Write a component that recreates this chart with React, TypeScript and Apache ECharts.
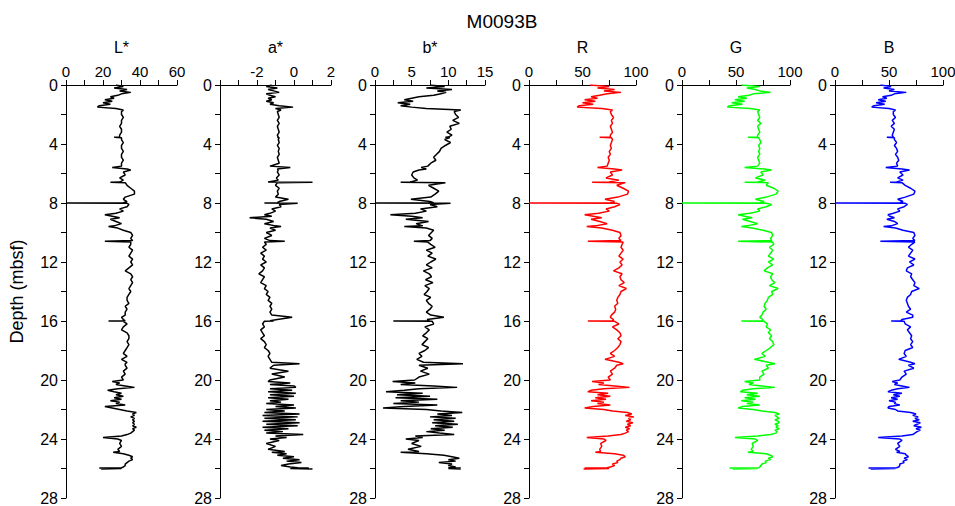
import React, { useEffect, useRef } from "react";
import * as echarts from "echarts";

// Depth (mbsf), shared by all six logs
const depth = [
  0, 0.1, 0.2, 0.3, 0.4, 0.5, 0.6, 0.7, 0.8, 0.9, 1.0, 1.1, 1.2, 1.3, 1.4, 1.5, 1.6, 1.7, 1.8,
  2.0, 2.2, 2.4, 2.6, 2.8, 3.0, 3.2, 3.4, 3.53, 3.55, 3.57, 3.7, 3.9, 4.1, 4.3, 4.5, 4.7, 4.9, 5.1, 5.3,
  5.5, 5.6, 5.7, 5.76, 5.9, 6.1, 6.3, 6.45, 6.58, 6.6, 6.62, 6.8, 7.0, 7.2, 7.4, 7.6, 7.75, 7.9, 7.98, 8.0, 8.02,
  8.1, 8.25, 8.4, 8.55, 8.7, 8.8, 8.9, 9.0, 9.1, 9.25, 9.4, 9.55, 9.6, 9.7, 9.85, 10.0, 10.2, 10.4, 10.55, 10.6, 10.65, 10.8, 11.0, 11.2,
  11.4, 11.6, 11.8, 12.0, 12.2, 12.4, 12.6, 12.8, 13.0, 13.2, 13.4, 13.6, 13.8, 14.0, 14.2, 14.4, 14.6, 14.8, 15.0, 15.2, 15.4, 15.6,
  15.75, 15.9, 15.98, 16.0, 16.02,
  16.2, 16.4, 16.6, 16.8, 17.0, 17.2, 17.4, 17.6, 17.8, 18.0, 18.2, 18.4, 18.6, 18.8,
  18.9, 19.0, 19.2, 19.4, 19.6, 19.8, 20.0,
  20.1, 20.2, 20.3, 20.4, 20.5, 20.6, 20.7, 20.8, 20.9, 21.0, 21.1, 21.2, 21.3, 21.4, 21.5, 21.6, 21.7, 21.8, 21.9, 22.0,
  22.1, 22.2, 22.3, 22.4, 22.5, 22.6, 22.7, 22.8, 22.9, 23.0, 23.1, 23.2, 23.3, 23.4, 23.5, 23.6, 23.7, 23.8, 23.9, 24.0, 24.1,
  24.3, 24.5, 24.7, 24.85, 24.9, 25.0, 25.1, 25.2, 25.3, 25.4, 25.5, 25.6, 25.7, 25.8, 25.9, 25.95, 25.97, 26.0, 26.03,
];

const lStar = [
  27, 31, 26, 33, 29, 35, 30, 28, 24, 26, 21, 25, 20, 24, 18, 17, 27, 31, 30,
  30, 31, 30, 30, 29, 30, 30, 29, 29, 26, 30, 30, 31, 30, 30, 31, 30, 30, 31, 30,
  30, 25, 33, 35, 31, 32, 29, 31, 29, 24, 32, 33, 35, 37, 37, 32, 31, 33, 31, 0, 33,
  34, 33, 29, 31, 27, 21, 25, 29, 24, 27, 30, 26, 23, 28, 31, 35, 36, 35, 36, 21, 35, 35, 34, 36,
  35, 34, 36, 35, 36, 34, 32, 35, 36, 35, 36, 35, 34, 35, 34, 33, 33, 34, 32, 33, 32, 32,
  30, 31, 32, 23, 31,
  33, 31, 30, 33, 34, 34, 33, 34, 33, 32, 31, 33, 30, 33,
  32, 32, 33, 31, 32, 30, 31,
  25, 29, 27, 32, 37, 28, 22.5, 26, 30, 27, 31, 26, 30, 24, 29, 27, 32, 21, 25, 29,
  33, 38, 36, 37, 35, 37, 36, 37, 36, 37, 36, 38, 36, 37, 36, 35, 33, 30, 20, 28, 30,
  29, 30, 28, 29, 25.5, 31, 34, 36, 35, 36, 34, 33, 32, 32, 31, 30, 18, 30, 19,
];

const aStar = [
  -1.2, -1.5, -0.9, -1.4, -1.1, -0.8, -1.5, -1.3, -1.0, -1.4, -1.2, -1.5, -1.1, -1.3, -0.8, -0.05, -1.0, -0.7, -0.9,
  -0.85, -0.8, -0.9, -0.8, -0.9, -0.85, -0.8, -0.9, -0.85, -0.9, -0.8, -0.85, -0.8, -0.9, -0.8, -0.85, -0.8, -0.9, -0.85, -0.8,
  -1.3, -0.2, -0.9, -0.85, -0.9, -0.8, -0.95, -0.85, -1.4, 1.0, -0.9, -1.0, -0.8, -0.9, -0.85, -1.0, -0.3, -0.8, -0.9, -1.6, 0.2,
  -0.8, -0.7, -1.2, -1.0, -1.3, -1.6, -1.2, -2.4, -1.5, -1.1, -1.6, -1.0, -0.7, -1.3, -1.0, -1.5, -1.2, -1.6, -1.3, -0.5, -1.6, -1.5, -1.7, -1.5,
  -1.8, -1.6, -1.7, -1.5, -1.8, -1.6, -1.7, -1.9, -1.6, -1.7, -1.8, -1.5, -1.6, -1.4, -1.5, -1.3, -1.4, -1.2, -1.3, -1.2, -1.3, -1.2,
  -0.1, -0.9, -1.3, -1.1, -1.6,
  -1.7, -1.6, -1.8, -1.7, -1.6, -1.8, -1.6, -1.5, -1.6, -1.4, -1.3, -1.4, -1.3, -1.2,
  0.3, -1.1, -1.3, -0.3, -1.2, -0.5, -1.3,
  -1.4, -0.2, -1.3, 0.0, 0.1, -1.3, -0.1, -1.4, 0.1, -1.3, 0.0, -1.4, -0.3, -1.3, -0.7, -1.5, 0.0, -1.0, 0.1, -1.5,
  -0.5, -1.6, 0.3, -1.7, 0.2, -1.6, 0.1, -1.7, 0.3, -1.5, 0.2, -1.7, -0.3, -1.6, -0.6, -1.5, 0.5, -1.0, -0.4, -1.3, -0.8,
  -1.5, -1.0, -1.4, -0.5, -1.2, -0.4, -0.9, 0.0, -0.6, 0.3, -0.4, 0.4, -0.3, -0.7, -0.2, 0.2, 0.8, -0.2, 1.0,
];

const bStar = [
  7.5, 9.5, 7.0, 10.5, 8.5, 9.7, 9.0, 8.0, 6.0, 5.0, 4.0, 5.2, 3.1, 4.8, 3.5, 5.0, 7.0, 11.7, 10.8,
  11.0, 11.4, 10.6, 11.5, 10.2, 10.4, 9.8, 10.5, 10.0, 9.6, 10.2, 9.5, 10.3, 9.6, 9.0, 8.8, 8.4, 8.0, 8.3, 7.6,
  7.2, 6.3, 7.0, 6.0, 5.2, 5.0, 5.3, 5.8, 4.8, 3.5, 9.6, 7.3, 8.0, 8.7, 8.2, 7.6, 4.9, 7.5, 8.0, 0, 10.3,
  7.5, 8.5, 6.2, 7.0, 5.5, 2.1, 5.0, 6.5, 4.2, 7.3, 5.6, 6.5, 4.0, 7.0, 8.0, 7.7, 7.3, 7.8, 7.5, 5.3, 7.2, 7.6, 8.2, 7.0,
  7.8, 7.2, 8.3, 7.6, 7.0, 7.8, 6.6, 7.4, 7.7, 6.9, 7.9, 6.8, 7.4, 7.1, 6.7, 7.6, 7.0, 7.3, 7.8, 7.5, 7.0, 7.6,
  9.4, 7.1, 7.4, 2.5, 7.8,
  8.0, 6.8, 7.4, 7.0, 6.5, 7.2, 6.8, 6.4, 7.3, 6.8, 6.0, 6.4, 5.7, 6.6,
  12.0, 6.0, 7.2, 6.2, 7.4, 6.0, 5.4,
  2.4, 5.5, 3.5, 8.0, 11.2, 6.0, 4.0, 1.5, 6.5, 3.0, 7.5, 2.8, 8.5, 3.5, 6.0, 2.5, 8.5, 4.0, 1.1, 7.0,
  9.0, 11.9, 8.5, 10.5, 7.5, 11.0, 8.0, 10.8, 7.8, 11.3, 8.2, 10.6, 7.6, 9.5, 7.0, 8.8, 10.8, 5.5, 6.5, 4.2, 6.0,
  5.0, 6.3, 4.5, 6.0, 3.5, 7.0, 9.4, 10.5, 11.5, 10.0, 11.0, 8.7, 10.5, 10.0, 11.0, 10.0, 11.7, 10.0, 11.7,
];

const red = [
  57, 75, 64, 80, 70, 86, 73, 66, 58, 64, 52, 62, 50, 60, 47, 45, 68, 78, 76,
  77, 79, 77, 78, 76, 77, 78, 76, 76, 66, 77, 78, 77, 76, 77, 75, 76, 74, 75, 74,
  73, 64, 80, 87, 76, 78, 72, 84, 75, 59, 90, 82, 88, 93, 92, 83, 71, 80, 76, 0, 82,
  85, 80, 72, 75, 65, 52, 60, 68, 58, 66, 73, 62, 54, 68, 78, 85, 86, 84, 86, 55, 88, 87, 86, 88,
  86, 84, 88, 85, 87, 84, 79, 87, 85, 86, 89, 84, 91, 86, 85, 83, 82, 83, 80, 81, 80, 77,
  76, 79, 78, 55, 80,
  84, 78, 82, 85, 86, 83, 86, 85, 83, 80, 76, 80, 71, 84,
  88, 82, 80, 76, 78, 74, 76,
  59, 70, 65, 80, 94, 70, 58, 55, 74, 64, 76, 62, 72, 58, 70, 64, 76, 60, 52, 70,
  78, 92, 96, 90, 98, 93, 95, 91, 97, 92, 95, 90, 94, 91, 93, 90, 86, 74, 54, 70, 72,
  67, 68, 66, 67, 62, 80, 88, 90, 86, 85, 82, 83, 78, 80, 76, 73, 52, 75, 51,
];

const green = [
  55, 72, 60, 68, 72, 82, 66, 62, 52, 60, 49, 58, 46, 56, 44, 42, 63, 72, 70,
  71, 72, 70, 73, 70, 71, 72, 70, 70, 61, 71, 72, 73, 71, 72, 71, 72, 70, 71, 72,
  70, 58, 76, 83, 73, 75, 68, 77, 70, 58, 80, 78, 85, 89, 87, 78, 68, 76, 72, 0, 78,
  83, 78, 70, 72, 63, 52, 58, 65, 56, 63, 70, 60, 55, 65, 75, 83, 84, 82, 83, 52, 84, 85, 81, 84,
  82, 80, 85, 80, 84, 79, 76, 84, 82, 83, 86, 81, 89, 83, 84, 80, 79, 77, 76, 78, 75, 74,
  72, 75, 74, 55, 76,
  79, 78, 82, 80, 83, 81, 84, 85, 82, 78, 74, 77, 67, 80,
  86, 78, 80, 74, 76, 72, 72,
  58, 66, 62, 74, 86, 66, 56, 54, 70, 60, 72, 58, 68, 55, 66, 60, 72, 56, 52, 66,
  74, 86, 90, 86, 88, 90, 86, 89, 90, 86, 89, 87, 90, 86, 88, 87, 82, 70, 49, 68, 70,
  65, 66, 64, 66, 61, 78, 82, 84, 80, 82, 77, 78, 74, 73, 72, 71, 44, 70, 47,
];

const blue = [
  42, 52, 45, 55, 50, 66, 55, 52, 44, 48, 40, 47, 38, 46, 36, 34, 50, 56, 54,
  54, 56, 53, 55, 52, 55, 54, 53, 54, 48, 55, 55, 57, 55, 57, 58, 56, 58, 59, 57,
  58, 47, 62, 69, 60, 63, 58, 63, 57, 51, 62, 65, 70, 74, 73, 65, 58, 63, 60, 0, 65,
  67, 64, 58, 60, 54, 49, 51, 55, 48, 55, 58, 52, 45, 56, 63, 73, 74, 72, 74, 42, 74, 71, 68, 72,
  70, 68, 74, 69, 73, 67, 66, 71, 70, 72, 74, 73, 78, 71, 70, 67, 66, 67, 68, 70, 66, 72,
  72, 62, 61, 52, 64,
  65, 70, 67, 69, 71, 70, 72, 70, 72, 65, 64, 66, 59, 70,
  74, 68, 73, 64, 66, 62, 60,
  53, 58, 55, 62, 69, 58, 52, 49, 62, 54, 60, 52, 58, 50, 56, 55, 60, 50, 49, 56,
  58, 70, 75, 72, 77, 74, 78, 72, 79, 76, 73, 80, 75, 79, 76, 74, 72, 62, 40, 60, 62,
  58, 60, 56, 60, 57, 65, 66, 68, 64, 67, 63, 64, 60, 60, 59, 57, 31, 56, 33,
];

// Tick labels shown on each axis
const lLabels = [0, 20, 40, 60];
const aLabels = [-2, 0, 2];
const bLabels = [0, 5, 10, 15];
const rgbLabels = [0, 50, 100];
const depthLabels = [0, 4, 8, 12, 16, 20, 24, 28];

const FONT = "'Liberation Sans', Arial, Helvetica, sans-serif";

export default function App() {
  const ref = useRef<HTMLDivElement>(null);

  useEffect(() => {
    if (!ref.current) return;
    const chart = echarts.init(ref.current, null, { renderer: "svg" });

    const panels = [
      { name: "L*", values: lStar, min: 0, max: 60, interval: 10, labels: lLabels, color: "#000000", left: 66, width: 111 },
      { name: "a*", values: aStar, min: -4, max: 2, interval: 1, labels: aLabels, color: "#000000", left: 220, width: 111 },
      { name: "b*", values: bStar, min: 0, max: 15, interval: 2.5, labels: bLabels, color: "#000000", left: 375, width: 110 },
      { name: "R", values: red, min: 0, max: 100, interval: 25, labels: rgbLabels, color: "#ff0000", left: 529, width: 107 },
      { name: "G", values: green, min: 0, max: 100, interval: 25, labels: rgbLabels, color: "#00ff00", left: 682, width: 108 },
      { name: "B", values: blue, min: 0, max: 100, interval: 25, labels: rgbLabels, color: "#0000ff", left: 835, width: 108 },
    ];

    const grid = panels.map((p) => ({
      left: p.left,
      width: p.width,
      top: 85,
      height: 413,
      containLabel: false,
      outerBoundsMode: "none",
    }));

    const xAxis = panels.map((p, i) => ({
      gridIndex: i,
      type: "value",
      position: "top",
      min: p.min,
      max: p.max,
      interval: p.interval,
      name: p.name,
      nameLocation: "middle",
      nameGap: 30,
      nameTextStyle: { fontSize: 16, color: "#000", fontFamily: FONT },
      axisLine: { show: true, onZero: false, lineStyle: { color: "#000", width: 1 } },
      axisTick: { show: true, inside: false, length: 5, lineStyle: { color: "#000", width: 1 } },
      axisLabel: {
        show: true,
        showMinLabel: true,
        showMaxLabel: true,
        margin: 6,
        fontSize: 15,
        color: "#000",
        fontFamily: FONT,
        formatter: (v: number) => (p.labels.some((l) => Math.abs(l - v) < 1e-6) ? String(v) : ""),
      },
      splitLine: { show: false },
    }));

    const yAxis = panels.map((p, i) => ({
      gridIndex: i,
      type: "value",
      inverse: true,
      min: 0,
      max: 28,
      interval: 2,
      name: i === 0 ? "Depth (mbsf)" : "",
      nameLocation: "middle",
      nameGap: 40,
      nameTextStyle: { fontSize: 18, color: "#000", fontFamily: FONT },
      axisLine: { show: true, onZero: false, lineStyle: { color: "#000", width: 1 } },
      axisTick: { show: true, inside: false, length: 5, lineStyle: { color: "#000", width: 1 } },
      axisLabel: {
        show: true,
        showMinLabel: true,
        showMaxLabel: true,
        margin: 8,
        fontSize: 16,
        color: "#000",
        fontFamily: FONT,
        formatter: (v: number) => (depthLabels.includes(v) ? String(v) : ""),
      },
      splitLine: { show: false },
    }));

    const series = panels.map((p, i) => ({
      type: "line",
      name: p.name,
      xAxisIndex: i,
      yAxisIndex: i,
      data: depth.map((d, k) => [p.values[k], d]),
      symbol: "none",
      showSymbol: false,
      silent: true,
      lineStyle: { color: p.color, width: 1.5 },
    }));

    chart.setOption({
      animation: false,
      backgroundColor: "#ffffff",
      graphic: [
        {
          type: "text",
          x: 502,
          y: 21,
          style: {
            text: "M0093B",
            font: `19px ${FONT}`,
            fill: "#000",
            align: "center",
            verticalAlign: "middle",
            textAlign: "center",
            textVerticalAlign: "middle",
          },
        },
      ],
      grid,
      xAxis,
      yAxis,
      series,
    });

    return () => chart.dispose();
  }, []);

  return (
    <div
      ref={ref}
      style={{ position: "fixed", left: 0, top: 0, width: 955, height: 506, background: "#fff" }}
    />
  );
}
